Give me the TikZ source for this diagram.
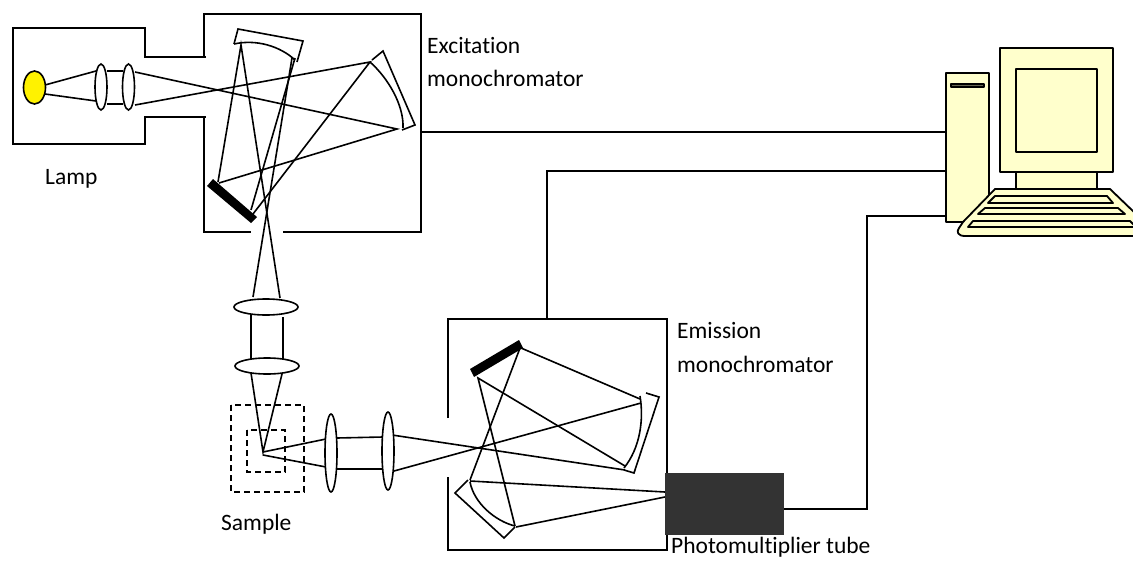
\documentclass[tikz,border=0pt]{standalone}
\usepackage{fontspec}
\setmainfont[Ligatures=NoCommon]{Carlito}
\definecolor{pcfill}{HTML}{FFFFCC}
\definecolor{pmt}{HTML}{333333}
\tikzset{
 ln/.style={draw=black,line width=1.7pt},
 thin ray/.style={draw=black,line width=1.6pt},
 lens/.style={ellipse,draw=black,line width=1.6pt,fill=white,inner sep=0pt},
 lbl/.style={inner sep=0pt,anchor=base west,font=\fontsize{23.5}{26}\selectfont},
 pc/.style={draw=black,line width=1.8pt,fill=pcfill,line join=round},
 dsh/.style={draw=black,line width=1.5pt,dash pattern=on 6pt off 4pt},
}
\usetikzlibrary{shapes.geometric}
\begin{document}
\begin{tikzpicture}[x=1pt,y=-1pt]
\useasboundingbox (0,0) rectangle (1133,560);
\fill[white] (0,0) rectangle (1133,560);
% housings
\draw[ln] (204,57) -- (145,57) -- (145,28) -- (13,28) -- (13,144) -- (145,144) -- (145,117) -- (206,117);
\draw[ln] (206,57) -- (204,57) -- (204,14) -- (421,14) -- (421,232) -- (283,232);
\draw[ln] (204,117) -- (204,232) -- (251,232);
\draw[ln] (448,418) -- (448,319) -- (667,319) -- (667,473);
\draw[ln] (448,477) -- (448,550) -- (667,550) -- (667,535);
% lamp
\draw[line width=1.6pt,fill=yellow] (34.5,87.5) ellipse [x radius=11,y radius=16.5];
% lamp rays
\draw[thin ray] (45,85) -- (96,71) (45,94) -- (96,101) (107,71) -- (123,71) (107,104) -- (123,104);
\draw[thin ray] (135,72) -- (397,129) -- (219,183);
\draw[thin ray] (135,105) -- (370,62) -- (253,214);
\draw[thin ray] (218,182) -- (241,45) -- (280,298);
\draw[thin ray] (251,210) -- (295,58);
\draw[thin ray] (292,58) -- (253,297);
\node[lens,minimum width=12pt,minimum height=46pt] (l1) at (101,87) {};
\node[lens,minimum width=12pt,minimum height=46pt] (l2) at (128.5,87) {};
% excitation mirrors
\draw[thin ray] (234,44) -- (238,29) -- (303,41) -- (297,62);
\draw[thin ray] (234,44) .. controls (256,39) and (280,46) .. (295,60);
\draw[thin ray] (372,60) -- (383,51) -- (415,125) -- (402,130);
\draw[thin ray] (370,62) .. controls (388,78) and (404,105) .. (403,128);
\fill[black] (207,186) -- (213,179) -- (257,217) -- (251,223) -- cycle;
% condenser
\draw[thin ray] (251,313) -- (251,359) (283,317) -- (283,361);
\draw[thin ray] (251,373) -- (263,452) -- (282,374);
\node[lens,minimum width=64pt,minimum height=16pt] (l3) at (266,307) {};
\node[lens,minimum width=64pt,minimum height=16pt] (l4) at (267,366) {};
% sample
\draw[dsh] (231,405) rectangle (304,492);
\draw[dsh] (247,430) rectangle (285,472);
% emission rays
\draw[thin ray] (263,452) -- (326,439) (263,455) -- (326,467);
\draw[thin ray] (337,438) -- (383,437) (335,469) -- (383,469);
\draw[thin ray] (392,435) -- (625,470);
\draw[thin ray] (394,471) -- (641,403);
\node[lens,minimum width=12pt,minimum height=78pt] (l5) at (331,453) {};
\node[lens,minimum width=12pt,minimum height=78pt] (l6) at (388,451) {};
\draw[thin ray] (521,348) -- (640,399);
\draw[thin ray] (625,466) -- (478,378) -- (515,526);
\draw[thin ray] (520,348) -- (470,480);
\draw[thin ray] (470,481) -- (665,492);
\draw[thin ray] (516,527) -- (665,497);
\fill[black] (470,369) -- (519,340) -- (523,348) -- (474,377) -- cycle;
\draw[thin ray] (640,396) .. controls (644,420) and (640,448) .. (624,468);
\draw[thin ray] (646,393) -- (659,397) -- (634,473) -- (624,470);
\draw[thin ray] (468,480) -- (455,493) -- (504,538) -- (515,527);
\draw[thin ray] (470,482) .. controls (474,503) and (495,521) .. (515,526);
% PMT
\node[fill=pmt,inner sep=0pt,minimum width=119pt,minimum height=62pt] (pmtbox) at (724.5,504) {};
% wires
\coordinate (exit) at (421,132);
\coordinate (emtop) at (547,319);
\coordinate (pmtout) at (784,509);
\coordinate (t1) at (946,132);
\coordinate (t2) at (946,171);
\coordinate (t3) at (946,216);
\draw[ln] (exit) -- (t1);
\draw[ln] (emtop) -- (547,171) -- (t2);
\draw[ln] (pmtout) -- (867,509) -- (867,216) -- (t3);
% computer
\draw[pc] (946,73) rectangle (989,222);
\draw[pc,fill=pcfill!40!black] (951,84) rectangle (984,87);
\draw[pc] (1016,165) rectangle (1097,192);
\draw[pc] (1000,48) rectangle (1113,172);
\draw[pc] (1016,69) rectangle (1097,152);
\draw[pc] (995,189) -- (1110,189) -- (1136,214) -- (1136,236) -- (965,236) .. controls (958,236) and (956,232) .. (959,228) -- (963,222) -- cycle;
\draw[pc] (995,196) -- (1107,196) -- (1113,203) -- (988,203) -- cycle;
\draw[pc] (985,208) -- (1118,208) -- (1125,214) -- (978,214) -- cycle;
\draw[pc] (973,221) -- (1130,221) -- (1136,227) -- (968,227) -- cycle;
% labels
\node[lbl] (t_a) at (427,53) {Excitation};
\node[lbl] (t_b) at (427,86) {monochromator};
\node[lbl] (t_c) at (45,184) {Lamp};
\node[lbl] (t_d) at (677,338) {Emission};
\node[lbl] (t_e) at (677,372) {monochromator};
\node[lbl] (t_f) at (221,530) {Sample};
\node[lbl] (t_g) at (671,553.5) {Photomultiplier tube};
\end{tikzpicture}
\end{document}
